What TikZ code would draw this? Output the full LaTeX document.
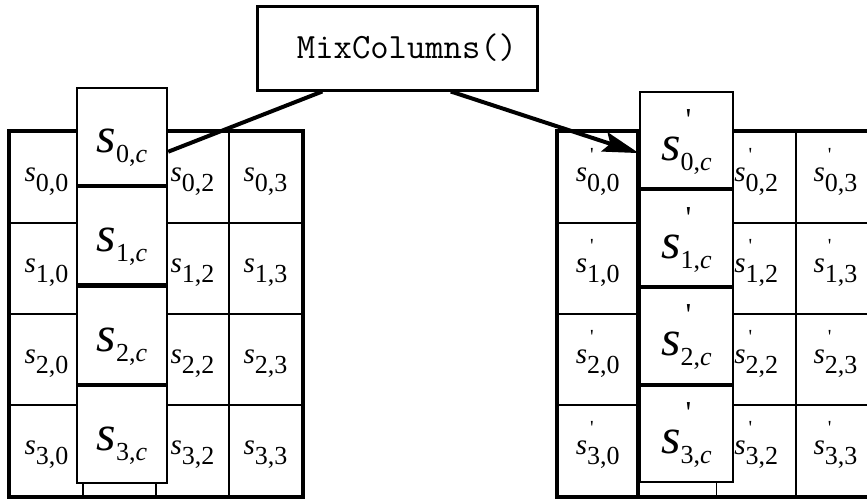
\documentclass[tikz,border=0pt]{standalone}
\usepackage{fontspec}
\setmainfont{Liberation Serif}
\usepackage{tikz}
\usetikzlibrary{arrows.meta, positioning, calc}

% state entries: s with a large subscript, primed or not
\newcommand{\smallst}[1]{\textit{s}\raisebox{-5pt}{\fontsize{13}{13}\selectfont #1}}
\newcommand{\smallstp}[1]{\textit{s}\rlap{\kern1.5pt\raisebox{10pt}{\fontsize{10}{10}\selectfont\textquotesingle}}\raisebox{-5pt}{\fontsize{13}{13}\selectfont #1}}
\newcommand{\bigst}[1]{\textit{s}\raisebox{-5pt}{\fontsize{13}{13}\selectfont #1}}
\newcommand{\bigstp}[1]{\textit{s}\rlap{\kern2.5pt\raisebox{15pt}{\fontsize{16}{16}\selectfont\textquotesingle}}\raisebox{-5pt}{\fontsize{13}{13}\selectfont #1}}

\begin{document}
\begin{tikzpicture}[
  x=0.5pt, y=-0.5pt,
  cellbox/.style={draw, line width=0.8pt, inner sep=0pt,
                  minimum height=45.5pt, font=\fontsize{14.5}{16}\selectfont,
                  text height=9.5pt, text depth=6pt},
  colbox/.style={draw, fill=white, line width=1.2pt, inner sep=0pt,
                 font=\fontsize{25}{26}\selectfont},
  border/.style={line width=2.2pt},
  mixbox/.style={draw, fill=white, line width=1.5pt, inner sep=0pt,
                 minimum width=140pt, minimum height=42pt,
                 font=\ttfamily\fontsize{17.8}{19}\selectfont},
  link/.style={line width=2pt}
]
  \useasboundingbox (0,0) rectangle (867,498);

  % input state
  \foreach \r in {0,...,3}
    \foreach \c in {0,...,3}
      \node[cellbox, minimum width=36.5pt] (l\r\c) at ({46.5+73*\c},{177.5+91*\r})
        {\ifnum\c=1 \else\smallst{\r,\c}\fi};
  \draw[border] (l00.north west) rectangle (l33.south east);

  % output state
  \foreach \r in {0,...,3}
    \foreach \c in {0,...,3}
      \node[cellbox, minimum width=39.65pt] (r\r\c) at ({597.65+79.3*\c},{177.5+91*\r})
        {\ifnum\c=1 \else\smallstp{\r,\c}\fi};
  \draw[border] (r00.north west) rectangle (r33.south east);
  \draw[border] (r00.north east) -- (r30.south east);

  % lifted column c
  \node[colbox, minimum width=45pt, minimum height=197.5pt] (lcol) at (122,285.5) {};
  \foreach \r in {0,...,3}
    \node[colbox, minimum width=45pt, minimum height=48.75pt,
          text height=19pt, text depth=3pt]
      (lc\r) at (122,{136.75+99.17*\r}) {\bigst{\r,\textit{c}}};
  \node[colbox, minimum width=46.5pt, minimum height=195pt] (rcol) at (686.5,287) {};
  \foreach \r in {0,...,3}
    \node[colbox, minimum width=46.5pt, minimum height=48.25pt,
          text height=22pt, text depth=2pt]
      (rc\r) at (686.5,{140.25+97.83*\r}) {\bigstp{\r,\textit{c}}};

  % transformation
  \node[mixbox] (mix) at (397,48) {\hspace*{10pt}MixColumns()};

  \draw[link] ($(lc0.south east)!0.35!(lc0.north east)$)
    -- ($(mix.south west)!0.236!(mix.south east)$);
  \draw[link, -{Stealth[length=18pt, width=10pt, inset=3pt]}]
    ($(mix.south west)!0.69!(mix.south east)$)
    -- ($(rc0.south west)!0.37!(rc0.north west)$);
\end{tikzpicture}
\end{document}
